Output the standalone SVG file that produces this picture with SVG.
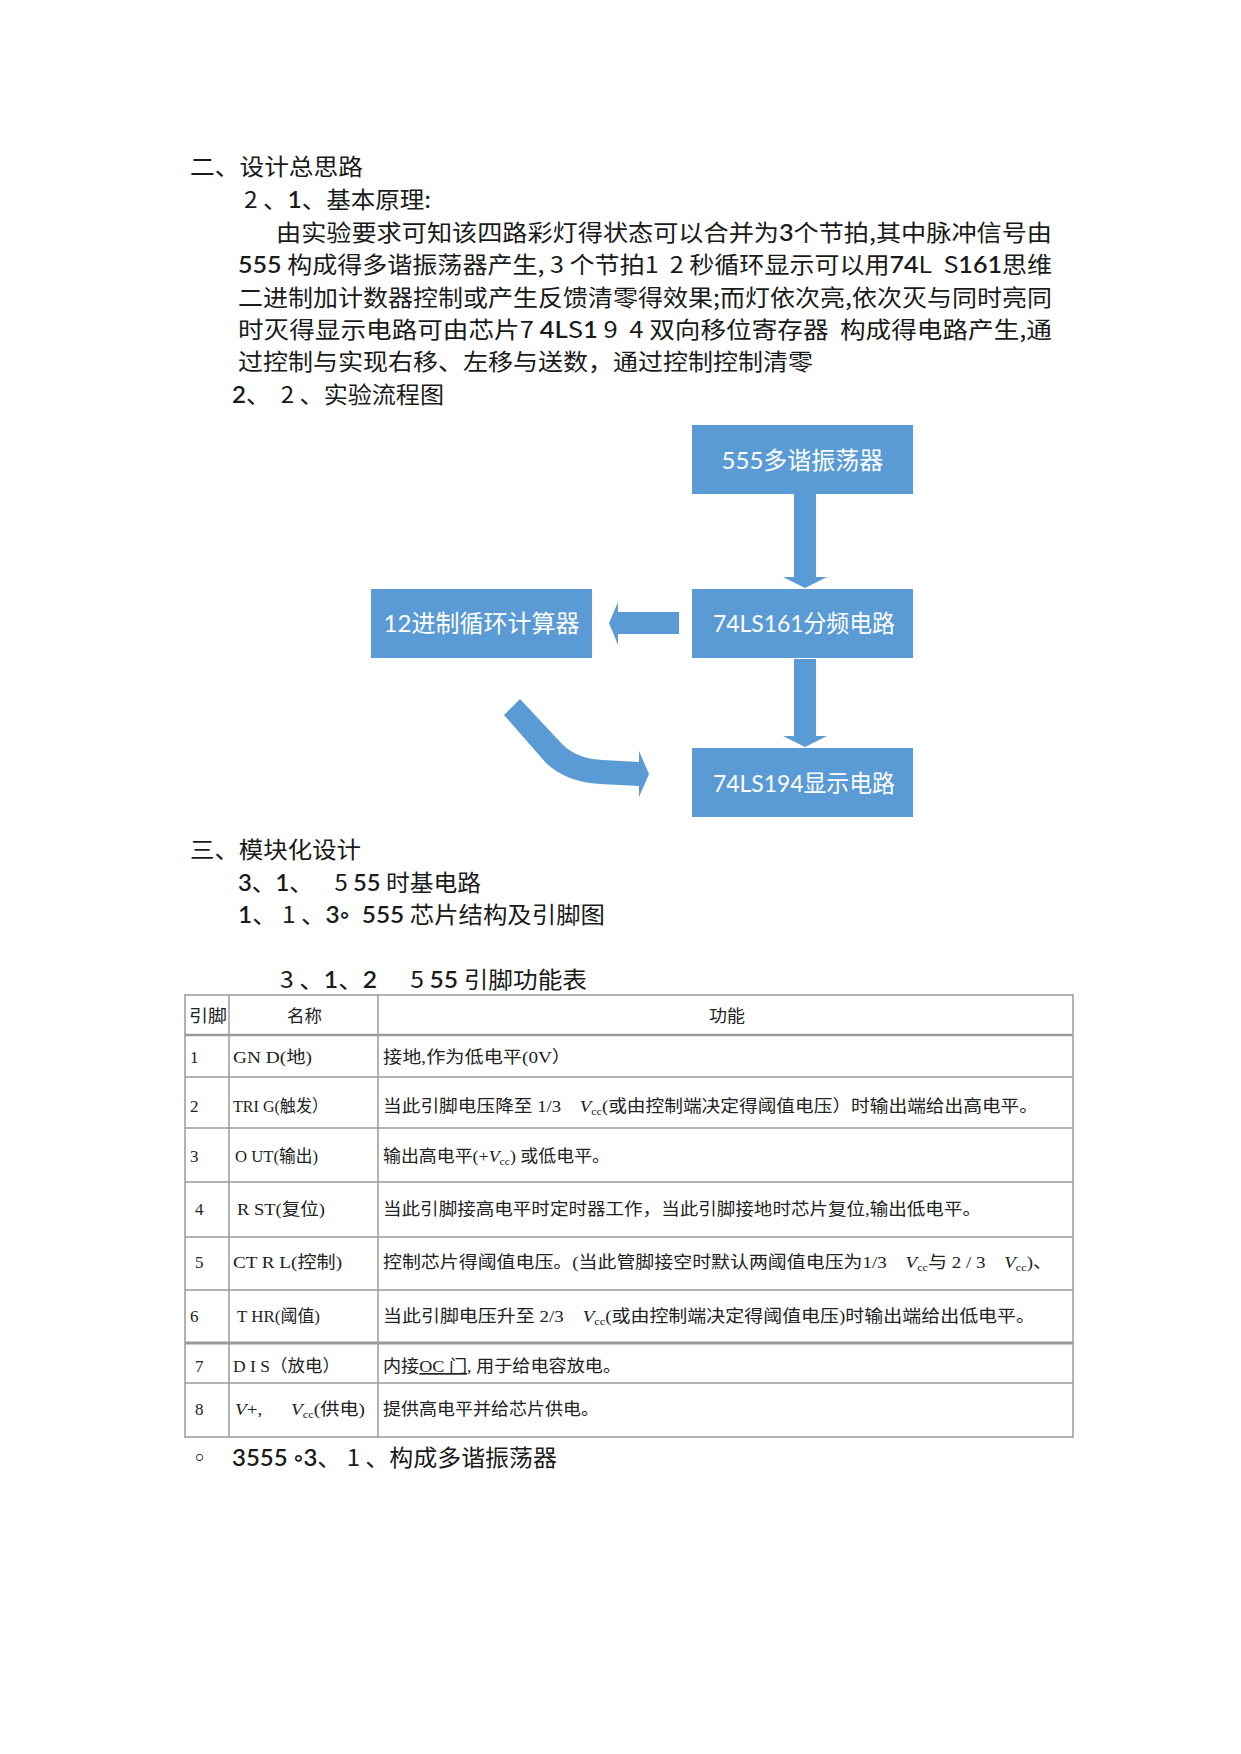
<svg xmlns="http://www.w3.org/2000/svg" width="1241" height="1754" viewBox="0 0 1241 1754" xml:space="preserve">
<style>
text{white-space:pre}
.t{font-family:"Noto Sans CJK SC","Liberation Serif",serif;font-size:23px;fill:#1a1a1a}
.c{font-family:Lato,"Liberation Sans","Noto Sans CJK SC",sans-serif;font-weight:600}
.tb{font-family:"Liberation Serif","Noto Sans CJK SC",serif;font-size:17px;fill:#222}
.bx{fill:#5B9BD5}
.bt{font-family:Lato,"Noto Sans CJK SC",sans-serif;font-size:24px;fill:#ffffff;text-anchor:middle}
.ar{fill:#5B9BD5}
.ln{stroke:#9a9a9a;stroke-width:1.5;fill:none}
.v{font-style:italic}
.s{font-size:11px}
</style>
<rect width="1241" height="1754" fill="#ffffff"/>
<g id="text-section2">
<text class="t" x="190" y="175" textLength="173" lengthAdjust="spacingAndGlyphs">二、设计总思路</text>
<text class="t" x="244" y="208" textLength="187" lengthAdjust="spacingAndGlyphs">2 、<tspan class="c">1</tspan>、基本原理:</text>
<text class="t" x="276" y="241" textLength="776" lengthAdjust="spacingAndGlyphs">由实验要求可知该四路彩灯得状态可以合并为<tspan class="c">3</tspan>个节拍,其中脉冲信号由</text>
<text class="t" x="238" y="273" textLength="814" lengthAdjust="spacingAndGlyphs"><tspan class="c">555</tspan> 构成得多谐振荡器产生, 3 个节拍1  2 秒循环显示可以用<tspan class="c">74</tspan>L  S<tspan class="c">161</tspan>思维</text>
<text class="t" x="238" y="306" textLength="814" lengthAdjust="spacingAndGlyphs">二进制加计数器控制或产生反馈清零得效果;而灯依次亮,依次灭与同时亮同</text>
<text class="t" x="238" y="338" textLength="814" lengthAdjust="spacingAndGlyphs">时灭得显示电路可由芯片7 <tspan class="c">4L</tspan>S<tspan class="c">1</tspan> 9  4 双向移位寄存器  构成得电路产生,通</text>
<text class="t" x="238" y="370" textLength="575" lengthAdjust="spacingAndGlyphs">过控制与实现右移、左移与送数，通过控制控制清零</text>
<text class="t" x="232" y="403" textLength="212" lengthAdjust="spacingAndGlyphs"><tspan class="c">2</tspan>、  2 、实验流程图</text>
</g>
<g id="node-555">
<rect class="bx" x="692" y="425" width="221" height="69"/>
<text class="bt" x="802.5" y="469">555多谐振荡器</text>
</g>
<g id="node-74ls161">
<rect class="bx" x="692" y="589" width="221" height="69"/>
<text class="bt" x="804" y="632" textLength="182" lengthAdjust="spacingAndGlyphs">74LS161分频电路</text>
</g>
<g id="node-counter">
<rect class="bx" x="371" y="589" width="221" height="69"/>
<text class="bt" x="481.5" y="632">12进制循环计算器</text>
</g>
<g id="node-74ls194">
<rect class="bx" x="692" y="748" width="221" height="69"/>
<text class="bt" x="804" y="792" textLength="182" lengthAdjust="spacingAndGlyphs">74LS194显示电路</text>
</g>
<g id="connectors">
<polygon class="ar" points="794,494 816,494 816,577 827,577 805,588 783,577 794,577"/>
<polygon class="ar" points="794,659 816,659 816,736 827,736 805,747 783,736 794,736"/>
<polygon class="ar" points="679,612 618,612 618,602 609,623 618,645 618,634 679,634"/>
<path class="ar" d="M504,715 L520,699 L563,745 Q578,759 603,760 L639,762 L639,751 L649,774 L639,797 L639,786 L600,784 Q566,782 546,763 Z"/>
</g>
<g id="text-section3">
<text class="t" x="190" y="858" textLength="171" lengthAdjust="spacingAndGlyphs">三、模块化设计</text>
<text class="t" x="238" y="891" textLength="243" lengthAdjust="spacingAndGlyphs"><tspan class="c">3</tspan>、<tspan class="c">1</tspan>、    5 <tspan class="c">55</tspan> 时基电路</text>
<text class="t" x="238" y="923" textLength="367" lengthAdjust="spacingAndGlyphs"><tspan class="c">1</tspan>、 1 、<tspan class="c">3◦  555</tspan> 芯片结构及引脚图</text>
<text class="t" x="280" y="988" textLength="307" lengthAdjust="spacingAndGlyphs">3 、<tspan class="c">1</tspan>、<tspan class="c">2</tspan>      5 <tspan class="c">55</tspan> 引脚功能表</text>
</g>
<g id="table">
<g class="ln">
<rect x="185" y="995" width="888" height="442"/>
<line x1="229" y1="995" x2="229" y2="1437"/>
<line x1="378" y1="995" x2="378" y2="1437"/>
<line x1="185" y1="1035" x2="1073" y2="1035" stroke-width="2.5"/>
<line x1="185" y1="1077" x2="1073" y2="1077"/>
<line x1="185" y1="1128" x2="1073" y2="1128"/>
<line x1="185" y1="1182" x2="1073" y2="1182"/>
<line x1="185" y1="1237" x2="1073" y2="1237"/>
<line x1="185" y1="1290" x2="1073" y2="1290"/>
<line x1="185" y1="1343" x2="1073" y2="1343" stroke-width="3"/>
<line x1="185" y1="1383" x2="1073" y2="1383"/>
</g>
<text class="tb" x="189" y="1022" textLength="38" lengthAdjust="spacingAndGlyphs">引脚</text>
<text class="tb" x="287" y="1022" textLength="35" lengthAdjust="spacingAndGlyphs">名称</text>
<text class="tb" x="709" y="1022" textLength="36" lengthAdjust="spacingAndGlyphs">功能</text>
<text class="tb" x="190" y="1063">1</text>
<text class="tb" x="190" y="1112">2</text>
<text class="tb" x="190" y="1162">3</text>
<text class="tb" x="195" y="1215">4</text>
<text class="tb" x="195" y="1268">5</text>
<text class="tb" x="190" y="1322">6</text>
<text class="tb" x="195" y="1372">7</text>
<text class="tb" x="195" y="1415">8</text>
<text class="tb" x="233" y="1063" textLength="79" lengthAdjust="spacingAndGlyphs">GN D(地)</text>
<text class="tb" x="233" y="1112" textLength="95" lengthAdjust="spacingAndGlyphs">TRI G(触发）</text>
<text class="tb" x="235" y="1162" textLength="83" lengthAdjust="spacingAndGlyphs">O UT(输出)</text>
<text class="tb" x="237" y="1215" textLength="88" lengthAdjust="spacingAndGlyphs">R ST(复位)</text>
<text class="tb" x="233" y="1268" textLength="109" lengthAdjust="spacingAndGlyphs">CT R L(控制)</text>
<text class="tb" x="237" y="1322" textLength="83" lengthAdjust="spacingAndGlyphs">T HR(阈值)</text>
<text class="tb" x="233" y="1372" textLength="107" lengthAdjust="spacingAndGlyphs">D I S（放电）</text>
<text class="tb" x="235" y="1415" textLength="130" lengthAdjust="spacingAndGlyphs"><tspan class="v">V</tspan>+,      <tspan class="v">V</tspan><tspan class="s" dy="3">cc</tspan><tspan dy="-3">(供电)</tspan></text>
<text class="tb" x="383" y="1063" textLength="188" lengthAdjust="spacingAndGlyphs">接地,作为低电平(0V）</text>
<text class="tb" x="383" y="1112" textLength="655" lengthAdjust="spacingAndGlyphs">当此引脚电压降至 1/3    <tspan class="v">V</tspan><tspan class="s" dy="3">cc</tspan><tspan dy="-3">(或由控制端决定得阈值电压）时输出端给出高电平。</tspan></text>
<text class="tb" x="383" y="1162" textLength="227" lengthAdjust="spacingAndGlyphs">输出高电平(+<tspan class="v">V</tspan><tspan class="s" dy="3">cc</tspan><tspan dy="-3">) 或低电平。</tspan></text>
<text class="tb" x="383" y="1215" textLength="598" lengthAdjust="spacingAndGlyphs">当此引脚接高电平时定时器工作，当此引脚接地时芯片复位,输出低电平。</text>
<text class="tb" x="383" y="1268" textLength="669" lengthAdjust="spacingAndGlyphs">控制芯片得阈值电压。(当此管脚接空时默认两阈值电压为1/3    <tspan class="v">V</tspan><tspan class="s" dy="3">cc</tspan><tspan dy="-3">与 2 / 3    </tspan><tspan class="v">V</tspan><tspan class="s" dy="3">cc</tspan><tspan dy="-3">)、</tspan></text>
<text class="tb" x="383" y="1322" textLength="652" lengthAdjust="spacingAndGlyphs">当此引脚电压升至 2/3    <tspan class="v">V</tspan><tspan class="s" dy="3">cc</tspan><tspan dy="-3">(或由控制端决定得阈值电压)时输出端给出低电平。</tspan></text>
<text class="tb" x="383" y="1372" textLength="238" lengthAdjust="spacingAndGlyphs">内接<tspan text-decoration="underline">OC 门</tspan>, 用于给电容放电。</text>
<text class="tb" x="383" y="1415" textLength="216" lengthAdjust="spacingAndGlyphs">提供高电平并给芯片供电。</text>
</g>
<g id="text-last">
<text class="t" x="188" y="1466">◦</text>
<text class="t" x="232" y="1466" textLength="325" lengthAdjust="spacingAndGlyphs"><tspan class="c">3555 ◦3</tspan>、 1 、构成多谐振荡器</text>
</g>
</svg>
